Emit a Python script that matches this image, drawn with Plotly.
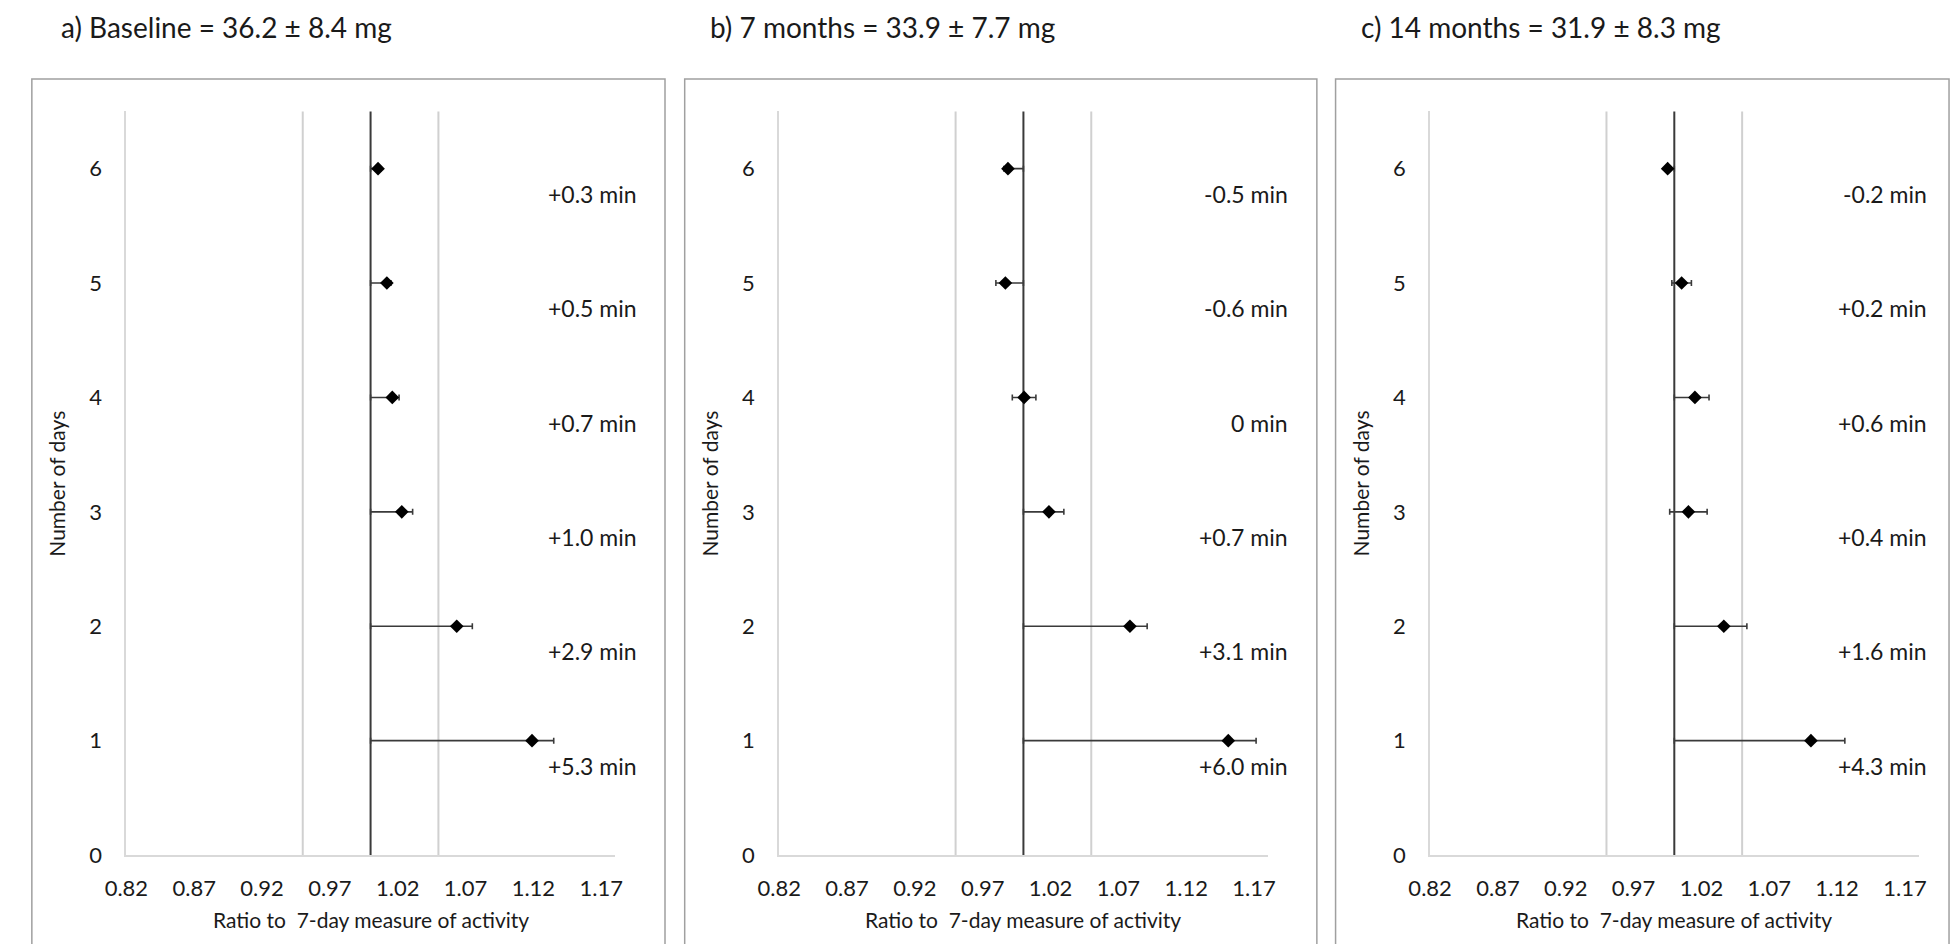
import plotly.graph_objects as go

W, H = 1959, 944

# ---------------- data ----------------
days = [1, 2, 3, 4, 5, 6]

ratio_a = [1.119, 1.0635, 1.023, 1.016, 1.012, 1.0055]
ci_a = [0.016, 0.0115, 0.008, 0.005, 0.003, 0.002]
ratio_b = [1.151, 1.0785, 1.0188, 1.0005, 0.9867, 0.9886]
ci_b = [0.0205, 0.0127, 0.011, 0.0087, 0.007, 0.003]
ratio_c = [1.1007, 1.0365, 1.0104, 1.0152, 1.0054, 0.9951]
ci_c = [0.025, 0.017, 0.0138, 0.0104, 0.0072, 0.002]

labels_a = ["+5.3 min", "+2.9 min", "+1.0 min", "+0.7 min", "+0.5 min", "+0.3 min"]
labels_b = ["+6.0 min", "+3.1 min", "+0.7 min", "0 min", "-0.6 min", "-0.5 min"]
labels_c = ["+4.3 min", "+1.6 min", "+0.4 min", "+0.6 min", "+0.2 min", "-0.2 min"]

titles = ["a) Baseline = 36.2 ± 8.4 mg",
          "b) 7 months = 33.9 ± 7.7 mg",
          "c) 14 months = 31.9 ± 8.3 mg"]

x_ticks = [0.82, 0.87, 0.92, 0.97, 1.02, 1.07, 1.12, 1.17]
y_ticks = [0, 1, 2, 3, 4, 5, 6]
ref_lines = [0.95, 1.05]
null_line = 1.0
x_range = [0.82, 1.18]
y_range = [0, 6.5]
x_title = "Ratio to  7-day measure of activity"
y_title = "Number of days"

# ---------------- layout geometry (pixels) ----------------
plot_x0 = [106, 769, 1430]
plot_w = 496
plot_top, plot_bot = 113, 867
box_x = [(10, 653), (673, 1315), (1334, 1957)]
box_top = 80
title_x = [38, 697, 1358]
label_right = [627, 1288, 1937]

FONT = "Lato"
TXT = "#1a1a1a"

def px(x):
    return x / W

def py(y):
    return 1 - y / H

panels = [(ratio_a, ci_a, labels_a), (ratio_b, ci_b, labels_b), (ratio_c, ci_c, labels_c)]

fig = go.Figure()
annotations = []
shapes = []

for i, (ratio, ci, labels) in enumerate(panels):
    n = i + 1
    xa = "x" if n == 1 else f"x{n}"
    ya = "y" if n == 1 else f"y{n}"
    plus = [max(c, null_line - r) for r, c in zip(ratio, ci)]
    minus = [max(c, r - null_line) for r, c in zip(ratio, ci)]
    fig.add_trace(go.Scatter(
        x=ratio, y=days, mode="markers",
        marker=dict(symbol="diamond", size=10.5, color="black"),
        error_x=dict(type="data", array=plus, arrayminus=minus, symmetric=False,
                     color="#3a3a3a", thickness=1.6, width=3),
        xaxis=xa, yaxis=ya, showlegend=False, cliponaxis=False,
    ))
    axkey = "xaxis" if n == 1 else f"xaxis{n}"
    aykey = "yaxis" if n == 1 else f"yaxis{n}"
    fig.update_layout({
        axkey: dict(domain=[px(plot_x0[i]), px(plot_x0[i] + plot_w)], range=x_range,
                    tickvals=x_ticks, ticktext=[f"{v:.2f}" for v in x_ticks],
                    showgrid=False, zeroline=False, showline=True,
                    linecolor="#d9d9d9", linewidth=2, ticks="",
                    ticklabelstandoff=13,
                    tickfont=dict(family=FONT, size=22, color=TXT),
                    anchor=ya, fixedrange=True),
        aykey: dict(domain=[py(plot_bot), py(plot_top)], range=y_range,
                    tickvals=y_ticks, showgrid=False, zeroline=False, showline=True,
                    linecolor="#d9d9d9", linewidth=2, ticks="",
                    ticklabelstandoff=18,
                    tickfont=dict(family=FONT, size=22, color=TXT),
                    anchor=xa, fixedrange=True),
    })
    # reference lines
    for v in ref_lines:
        shapes.append(dict(type="line", xref=xa, yref=f"{ya} domain", x0=v, x1=v, y0=0, y1=1,
                           line=dict(color="#d0d0d0", width=2), layer="below"))
    shapes.append(dict(type="line", xref=xa, yref=f"{ya} domain", x0=null_line, x1=null_line,
                       y0=0, y1=1, line=dict(color="#3a3a3a", width=2), layer="below"))
    # panel box
    x0, x1 = box_x[i]
    shapes.append(dict(type="rect", xref="paper", yref="paper",
                       x0=px(x0), x1=px(x1), y0=-0.05, y1=py(box_top),
                       line=dict(color="#a0a0a0", width=1.5), fillcolor="rgba(0,0,0,0)",
                       layer="below"))
    # titles
    annotations.append(dict(text=titles[i], xref="paper", yref="paper",
                            x=px(title_x[i]), y=py(27), xanchor="left", yanchor="middle",
                            showarrow=False, font=dict(family=FONT, size=28, color=TXT)))
    # axis titles
    annotations.append(dict(text=x_title, xref="paper", yref="paper",
                            x=px(plot_x0[i] + plot_w / 2), y=py(932), xanchor="center",
                            yanchor="middle", showarrow=False,
                            font=dict(family=FONT, size=21, color=TXT)))
    annotations.append(dict(text=y_title, xref="paper", yref="paper",
                            x=px(plot_x0[i] - 71), y=py((plot_top + plot_bot) / 2),
                            xanchor="center", yanchor="middle", textangle=-90,
                            showarrow=False, font=dict(family=FONT, size=21, color=TXT)))
    # minute labels
    for d, lab in zip(days, labels):
        annotations.append(dict(text=lab, xref="paper", yref=ya,
                                x=px(label_right[i]), y=d - 0.22, xanchor="right",
                                yanchor="middle", showarrow=False,
                                font=dict(family=FONT, size=23, color=TXT)))

fig.update_layout(
    width=W, height=H, margin=dict(l=0, r=0, t=0, b=0),
    paper_bgcolor="white", plot_bgcolor="white",
    annotations=annotations, shapes=shapes,
)

fig.write_html("out.html",
               config={"displayModeBar": False, "staticPlot": True},
               post_script="document.body.style.margin='0';document.body.style.overflow='hidden';")
